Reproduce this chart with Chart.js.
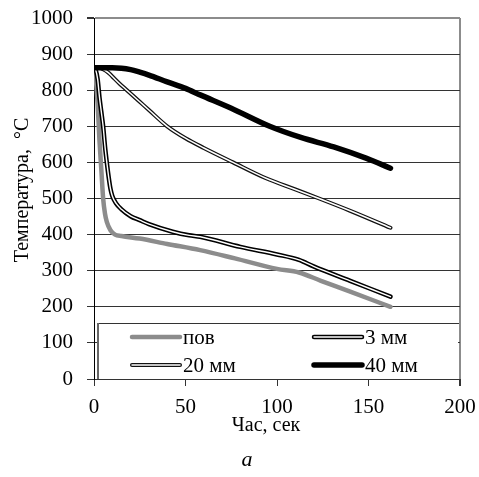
<!DOCTYPE html>
<html><head><meta charset="utf-8">
<script src="https://cdn.jsdelivr.net/npm/chart.js@4/dist/chart.umd.min.js"></script>
<style>html,body{margin:0;padding:0;background:#fff;overflow:hidden}</style>
</head><body>
<canvas id="c" width="479" height="477" style="display:block;width:479px;height:477px"></canvas>
<script>
// ---- data ----
const seriesLabels = ['пов', '3 мм', '20 мм', '40 мм'];
const xTitle = 'Час, сек';
const yTitle = 'Температура,  °С';
const caption = 'а';
const xTickValues = [0, 50, 100, 150, 200];
const yTickValues = [0, 100, 200, 300, 400, 500, 600, 700, 800, 900, 1000];

const tPov = [0, 1, 2, 3, 4, 5, 6, 7, 9, 11.5, 15, 25, 40, 58, 77, 100, 112, 124, 140, 162];
const vPov = [862, 830, 760, 660, 580, 500, 458, 435, 412, 400, 396, 389, 374, 357, 334, 305, 295, 272, 242, 200];

const t3 = [0, 1, 2, 3, 4, 5, 6, 7, 8, 9, 10, 12, 15, 20, 25, 30, 43, 52, 58, 80, 100, 112, 120, 140, 162];
const v3 = [862, 855, 830, 780, 740, 700, 645, 600, 560, 527, 507, 487, 470, 451, 440, 429, 408, 398, 394, 366, 345, 330, 312, 272, 228];

const t20 = [0, 3, 5, 8, 10, 14, 18, 25, 30, 40, 50, 60, 76, 94, 110, 123, 140, 162];
const v20 = [862, 862, 858, 848, 838, 818, 800, 768, 745, 700, 667, 640, 600, 556, 525, 500, 466, 419];

const t40 = [0, 10, 15, 20, 25, 30, 40, 50, 58, 75, 96, 113, 131, 149, 162];
const v40 = [862, 862, 861, 857, 850, 842, 823, 805, 787, 750, 700, 669, 643, 611, 584];

const pts = (t, v) => t.map((x, i) => ({x: x, y: v[i]}));
const FONT = '"Liberation Serif", "Times New Roman", serif';

function ds(label, t, v, color, width, order) {
  return {label, data: pts(t, v), borderColor: color, borderWidth: width, order,
    showLine: true, pointRadius: 0, pointHoverRadius: 0, fill: false,
    cubicInterpolationMode: 'monotone', borderCapStyle: 'round', borderJoinStyle: 'round'};
}

const datasets = [
  ds(seriesLabels[0], tPov, vPov, '#8c8c8c', 4.5, 5),
  ds(seriesLabels[1], t3, v3, '#000', 4.5, 4),
  ds(seriesLabels[1] + ' inner', t3, v3, '#fff', 1.4, 3),
  ds(seriesLabels[2], t20, v20, '#111', 4, 2),
  ds(seriesLabels[2] + ' inner', t20, v20, '#fff', 1.5, 1),
  ds(seriesLabels[3], t40, v40, '#000', 5.5, 0)
];

const legendItems = [
  {label: seriesLabels[0], x: 132, y: 337, outer: '#8c8c8c', ow: 4.5, inner: null},
  {label: seriesLabels[1], x: 314, y: 337, outer: '#000', ow: 4.5, inner: 1.4},
  {label: seriesLabels[2], x: 132, y: 365, outer: '#111', ow: 4, inner: 1.5},
  {label: seriesLabels[3], x: 314, y: 365, outer: '#000', ow: 5.5, inner: null}
];

const overlay = {
  id: 'overlay',
  afterDatasetsDraw(chart) {
    const c = chart.ctx, a = chart.chartArea;
    c.save();
    // legend box
    const lx = 97, ly = 323;
    c.fillStyle = '#fff';
    c.fillRect(lx, ly, a.right - 2 - lx, a.bottom - 0.5 - ly);
    c.strokeStyle = '#333'; c.lineWidth = 1;
    c.beginPath(); c.moveTo(lx, ly + 0.5); c.lineTo(a.right - 1, ly + 0.5); c.stroke();
    c.strokeStyle = '#666'; c.lineWidth = 2;
    c.beginPath(); c.moveTo(lx + 1, ly); c.lineTo(lx + 1, a.bottom); c.stroke();
    c.lineCap = 'round';
    legendItems.forEach(it => {
      c.strokeStyle = it.outer; c.lineWidth = it.ow;
      c.beginPath(); c.moveTo(it.x, it.y); c.lineTo(it.x + 48, it.y); c.stroke();
      if (it.inner) {
        c.strokeStyle = '#fff'; c.lineWidth = it.inner;
        c.beginPath(); c.moveTo(it.x, it.y); c.lineTo(it.x + 48, it.y); c.stroke();
      }
      c.fillStyle = '#000'; c.font = '21px ' + FONT;
      c.textBaseline = 'middle'; c.textAlign = 'left';
      c.fillText(it.label, it.x + 51, it.y + 1);
    });
    // axis titles
    c.fillStyle = '#000'; c.font = '20px ' + FONT; c.textAlign = 'center'; c.textBaseline = 'middle';
    c.fillText(xTitle, 266, 426);
    c.save(); c.translate(23, 190); c.rotate(-Math.PI / 2); c.fillText(yTitle, 0, 0); c.restore();
    // caption
    c.font = 'italic 22px ' + FONT; c.textBaseline = 'alphabetic';
    c.fillText(caption, 247, 466);
    c.restore();
  }
};

Chart.defaults.font.family = FONT;
new Chart(document.getElementById('c'), {
  type: 'scatter',
  data: {datasets},
  options: {
    responsive: false, animation: false, devicePixelRatio: 1,
    layout: {padding: {top: 18, right: 19, left: 0, bottom: 0}},
    plugins: {legend: {display: false}, tooltip: {enabled: false}},
    scales: {
      x: {
        type: 'linear', min: 0, max: 200,
        afterBuildTicks: s => { s.ticks = xTickValues.map(v => ({value: v})); },
        afterFit: s => { s.height = 98; s.paddingLeft = 0; s.paddingRight = 0; },
        ticks: {font: {size: 21, family: FONT}, color: '#000', padding: 9, maxRotation: 0,
                callback: v => String(v)},
        grid: {
          drawOnChartArea: true, tickLength: 7, tickColor: '#333',
          color: ctx => (ctx.tick && ctx.tick.value === 200) ? '#8c8c8c' : 'rgba(0,0,0,0)',
          lineWidth: ctx => (ctx.tick && ctx.tick.value === 200) ? 2 : 1
        },
        border: {display: true, color: '#333', width: 1}
      },
      y: {
        type: 'linear', min: 0, max: 1000,
        afterBuildTicks: s => { s.ticks = yTickValues.map(v => ({value: v})); },
        afterFit: s => { s.width = 94; s.paddingTop = 0; s.paddingBottom = 0; },
        ticks: {font: {size: 21, family: FONT}, color: '#000', padding: 14,
                callback: v => String(v)},
        grid: {
          tickLength: 7, tickColor: '#333',
          color: ctx => (ctx.tick && ctx.tick.value === 1000) ? '#8c8c8c' : '#333',
          lineWidth: ctx => (ctx.tick && ctx.tick.value === 1000) ? 2 : 1
        },
        border: {display: true, color: '#000', width: 1}
      }
    }
  },
  plugins: [overlay]
});
</script>
</body></html>
